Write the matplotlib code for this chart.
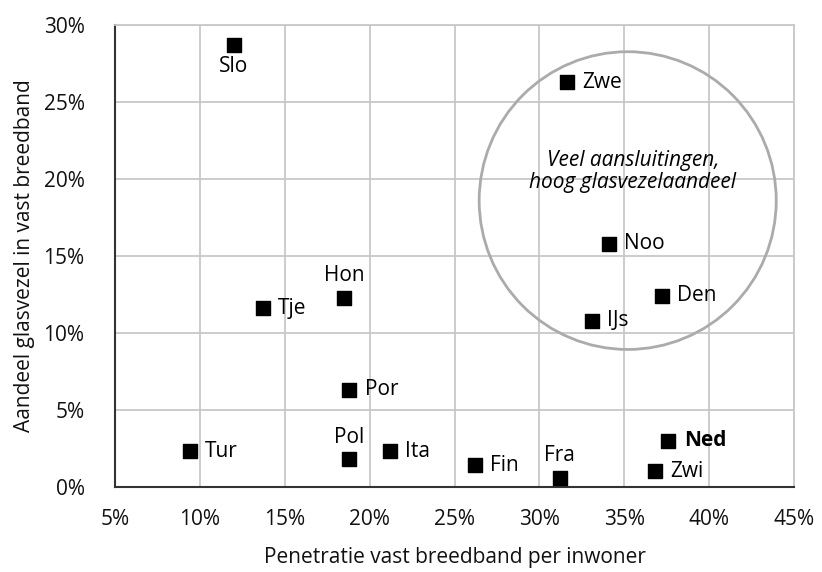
import matplotlib.pyplot as plt
from matplotlib.patches import Ellipse
from matplotlib.ticker import FuncFormatter

plt.rcParams['font.family'] = ['Open Sans', 'DejaVu Sans']

# landen, penetratie (%) en aandeel glasvezel (%)
LANDEN = ["Slo", "Zwe", "Noo", "Den", "IJs", "Hon", "Tje", "Por",
          "Tur", "Pol", "Ita", "Fin", "Fra", "Ned", "Zwi"]
PENETRATIE = [12.0, 31.6, 34.1, 37.2, 33.1, 18.5, 13.7, 18.8,
              9.4, 18.8, 21.2, 26.2, 31.2, 37.6, 36.8]
GLASVEZEL = [28.7, 26.3, 15.8, 12.4, 10.8, 12.3, 11.6, 6.3,
             2.3, 1.8, 2.3, 1.4, 0.6, 3.0, 1.0]

X_TICKS = [5, 10, 15, 20, 25, 30, 35, 40, 45]
Y_TICKS = [0, 5, 10, 15, 20, 25, 30]

# labels boven of onder de marker, de rest rechts
BOVEN = ["Hon", "Pol", "Fra"]
ONDER = ["Slo"]

FS = 15


def main() :
    fig = plt.figure(figsize=(8.22, 5.72), dpi=100)
    ax = fig.add_axes([0.14, 0.149, 0.826, 0.807])

    ax.scatter(PENETRATIE, GLASVEZEL, marker='s', s=115, color='black', zorder=3)

    for naam, x, y in zip(LANDEN, PENETRATIE, GLASVEZEL) :
        gewicht = 'bold' if naam == "Ned" else 'normal'
        if naam in BOVEN :
            ax.annotate(naam, (x, y), xytext=(0, 8), textcoords='offset points',
                        ha='center', va='bottom', fontsize=FS, weight=gewicht)
        elif naam in ONDER :
            ax.annotate(naam, (x, y), xytext=(0, -8), textcoords='offset points',
                        ha='center', va='top', fontsize=FS, weight=gewicht)
        else :
            ax.annotate(naam, (x, y), xytext=(11, 0), textcoords='offset points',
                        ha='left', va='center', fontsize=FS, weight=gewicht)

    ellips = Ellipse((35.2, 18.6), 17.5, 19.35, fill=False,
                     edgecolor='#ababab', linewidth=2, zorder=2)
    ax.add_patch(ellips)
    ax.text(35.5, 20.5, "Veel aansluitingen,\nhoog glasvezelaandeel",
            ha='center', va='center', fontsize=FS, style='italic',
            linespacing=1.05)

    ax.set_xlim(5, 45)
    ax.set_ylim(0, 30)
    ax.set_xticks(X_TICKS)
    ax.set_yticks(Y_TICKS)
    pct = FuncFormatter(lambda v, p : "%d%%" % v)
    ax.xaxis.set_major_formatter(pct)
    ax.yaxis.set_major_formatter(pct)
    ax.tick_params(length=0, labelsize=FS, colors='#111111')
    ax.tick_params(axis='x', pad=16)
    ax.tick_params(axis='y', pad=22)

    ax.grid(color='#c8c8c8', linewidth=1.3)
    ax.set_axisbelow(True)
    for kant in ['top', 'right'] :
        ax.spines[kant].set_color('#c8c8c8')
        ax.spines[kant].set_linewidth(1.3)
    for kant in ['left', 'bottom'] :
        ax.spines[kant].set_color('#333333')
        ax.spines[kant].set_linewidth(1.5)

    ax.set_xlabel("Penetratie vast breedband per inwoner", fontsize=FS, labelpad=12,
                  color='#111111')
    ax.set_ylabel("Aandeel glasvezel in vast breedband", fontsize=FS, labelpad=6,
                  color='#111111')

    fig.savefig("out.png", dpi=100)
    plt.close()


if __name__ == "__main__" :
    main()
